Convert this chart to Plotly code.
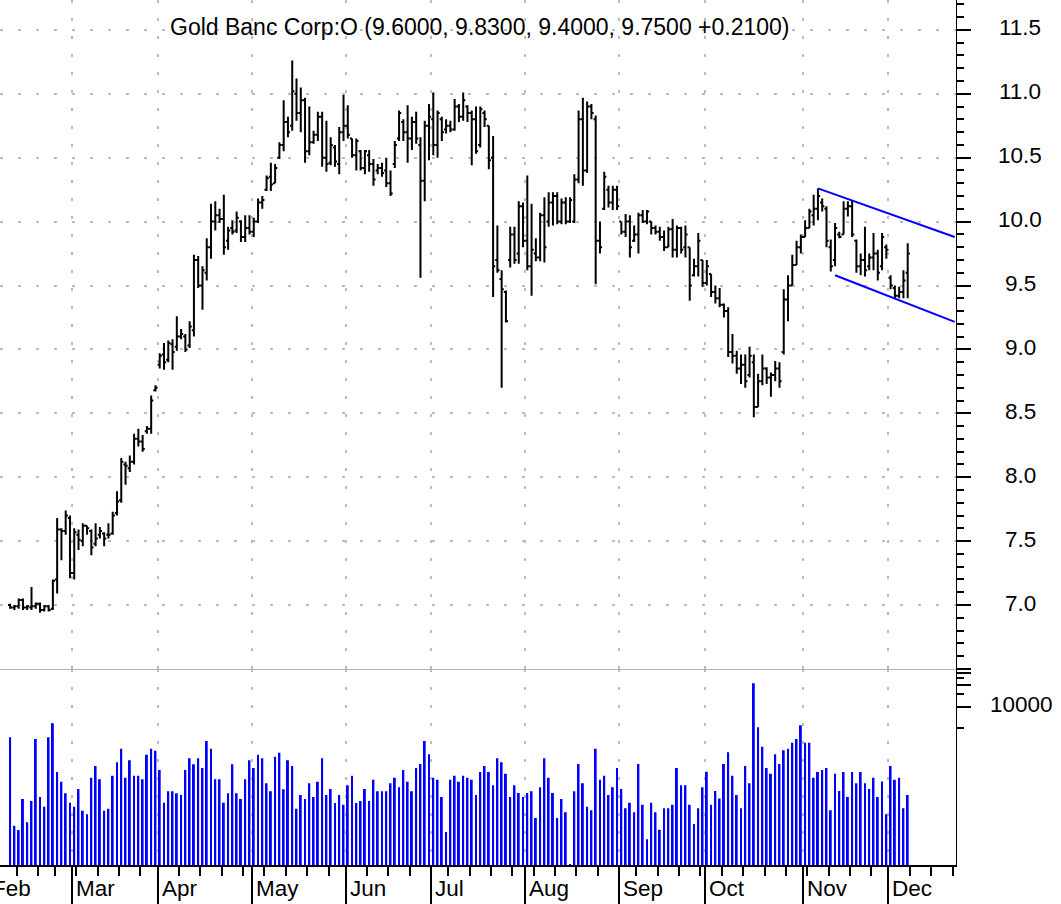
import pandas as pd
import plotly.graph_objects as go

# ---------------- data ----------------
holidays = ["2002-02-18", "2002-03-29", "2002-05-27", "2002-07-04", "2002-09-02", "2002-11-28"]
trade_days = [d for d in pd.bdate_range("2002-02-07", "2002-12-06")
              if d.strftime("%Y-%m-%d") not in holidays]

opens = [7.00, 6.98, 6.99, 7.04, 6.98, 6.98, 6.99, 7.01, 6.96, 6.99,
         6.97, 7.20, 7.59, 7.58, 7.68, 7.25, 7.55, 7.50, 7.62, 7.58,
         7.48, 7.55, 7.56, 7.55, 7.56, 7.72, 7.82, 8.10, 8.07, 8.12,
         8.30, 8.28, 8.36, 8.38, 8.68, 8.88, 8.96, 8.92, 9.04, 9.02,
         9.10, 9.10, 9.03, 9.15, 9.70, 9.50, 9.60, 9.80, 10.00, 10.05,
         10.02, 9.85, 9.95, 9.93, 10.00, 9.88, 9.95, 9.92, 10.00, 10.15,
         10.25, 10.35, 10.30, 10.50, 10.60, 10.78, 10.75, 11.00, 10.85, 10.95,
         10.55, 10.62, 10.68, 10.82, 10.50, 10.46, 10.58, 10.45, 10.70, 10.75,
         10.65, 10.52, 10.55, 10.42, 10.52, 10.45, 10.40, 10.42, 10.40, 10.30,
         10.45, 10.65, 10.78, 10.70, 10.65, 10.78, 10.60, 10.32, 10.75, 10.80,
         10.60, 10.80, 10.72, 10.75, 10.72, 10.90, 10.82, 10.90, 10.85, 10.80,
         10.60, 10.85, 10.75, 10.50, 9.70, 9.55, 9.45, 9.70, 9.90, 9.75,
         10.12, 9.85, 9.65, 9.75, 9.72, 10.05, 10.00, 10.15, 10.20, 10.00,
         10.15, 10.00, 10.00, 10.33, 10.80, 10.40, 10.90, 10.80, 9.85, 10.10,
         10.25, 10.15, 10.25, 10.00, 9.92, 10.00, 9.85, 9.90, 10.05, 10.00,
         10.00, 9.95, 9.92, 9.88, 9.80, 9.94, 9.78, 9.95, 9.80, 9.80,
         9.58, 9.65, 9.70, 9.52, 9.59, 9.45, 9.40, 9.35, 9.30, 8.98,
         8.95, 8.85, 8.88, 8.80, 8.90, 8.55, 8.75, 8.85, 8.78, 8.80,
         8.85, 8.98, 9.39, 9.50, 9.66, 9.80, 9.88, 9.95, 10.05, 10.10,
         10.15, 10.10, 9.80, 9.70, 9.90, 9.90, 10.10, 10.12, 9.85, 9.65,
         9.70, 9.65, 9.72, 9.75, 9.65, 9.80, 9.56, 9.48, 9.42, 9.45,
         9.60]
highs = [7.01, 7.00, 7.05, 7.05, 7.00, 7.14, 7.02, 7.02, 7.00, 7.00,
         7.20, 7.68, 7.60, 7.74, 7.70, 7.60, 7.59, 7.64, 7.62, 7.59,
         7.64, 7.61, 7.57, 7.64, 7.73, 7.89, 8.15, 8.12, 8.17, 8.34,
         8.38, 8.33, 8.40, 8.64, 8.72, 8.97, 9.05, 9.07, 9.08, 9.26,
         9.16, 9.12, 9.22, 9.74, 9.73, 9.65, 9.87, 10.14, 10.16, 10.10,
         10.21, 9.96, 10.01, 10.08, 10.01, 10.05, 10.05, 10.03, 10.18, 10.20,
         10.36, 10.46, 10.45, 10.62, 10.95, 10.82, 11.26, 11.12, 11.05, 10.97,
         10.90, 10.71, 10.86, 10.86, 10.79, 10.66, 10.60, 10.74, 10.99, 10.91,
         10.65, 10.65, 10.56, 10.56, 10.56, 10.49, 10.45, 10.46, 10.50, 10.40,
         10.63, 10.87, 10.80, 10.91, 10.82, 10.86, 10.66, 10.79, 10.92, 11.01,
         10.87, 10.82, 10.80, 10.79, 10.96, 10.92, 11.01, 10.91, 10.87, 10.90,
         10.90, 10.87, 10.75, 10.67, 9.97, 9.62, 9.46, 9.96, 9.96, 10.16,
         10.15, 10.36, 10.14, 9.87, 10.07, 10.19, 10.23, 10.23, 10.23, 10.18,
         10.19, 10.19, 10.37, 10.87, 10.97, 10.94, 10.92, 10.83, 10.00, 10.39,
         10.28, 10.28, 10.28, 10.00, 10.06, 10.05, 9.97, 10.07, 10.09, 10.09,
         10.00, 9.97, 9.96, 9.93, 9.96, 10.02, 9.97, 9.96, 9.97, 9.80,
         9.71, 9.91, 9.70, 9.70, 9.59, 9.50, 9.48, 9.36, 9.33, 9.12,
         8.99, 8.96, 8.96, 9.02, 8.96, 8.81, 8.96, 8.86, 8.82, 8.91,
         8.90, 9.47, 9.58, 9.74, 9.85, 9.90, 10.01, 10.10, 10.21, 10.26,
         10.18, 10.12, 9.86, 9.99, 9.92, 10.16, 10.16, 10.17, 9.86, 9.75,
         9.96, 9.75, 9.91, 9.78, 9.91, 9.82, 9.58, 9.50, 9.49, 9.62,
         9.83]
lows = [6.97, 6.96, 6.97, 6.96, 6.96, 6.96, 6.97, 6.94, 6.95, 6.95,
        6.96, 7.09, 7.35, 7.55, 7.21, 7.20, 7.43, 7.46, 7.55, 7.39,
        7.46, 7.52, 7.46, 7.52, 7.55, 7.70, 7.80, 7.94, 8.04, 8.10,
        8.24, 8.20, 8.34, 8.34, 8.67, 8.85, 8.84, 8.90, 8.84, 8.99,
        9.08, 8.98, 9.01, 9.10, 9.48, 9.31, 9.54, 9.71, 9.93, 9.99,
        9.74, 9.78, 9.90, 9.91, 9.84, 9.84, 9.90, 9.88, 9.99, 10.10,
        10.24, 10.24, 10.30, 10.49, 10.55, 10.66, 10.71, 10.79, 10.70, 10.46,
        10.52, 10.61, 10.63, 10.43, 10.39, 10.44, 10.43, 10.37, 10.63, 10.65,
        10.50, 10.40, 10.40, 10.37, 10.39, 10.28, 10.37, 10.35, 10.27, 10.20,
        10.42, 10.63, 10.63, 10.46, 10.56, 10.61, 9.56, 10.16, 10.48, 10.52,
        10.50, 10.63, 10.69, 10.70, 10.71, 10.78, 10.79, 10.78, 10.44, 10.53,
        10.58, 10.74, 10.41, 9.41, 9.60, 8.70, 9.21, 9.64, 9.67, 9.67,
        9.80, 9.62, 9.42, 9.69, 9.69, 9.68, 9.96, 9.97, 9.98, 9.98,
        9.98, 9.99, 9.99, 10.30, 10.28, 10.38, 10.80, 9.51, 9.75, 10.09,
        10.11, 10.09, 10.09, 9.90, 9.88, 9.72, 9.84, 9.75, 9.99, 9.98,
        9.90, 9.90, 9.85, 9.77, 9.80, 9.72, 9.72, 9.75, 9.72, 9.38,
        9.57, 9.57, 9.49, 9.50, 9.41, 9.36, 9.33, 9.25, 8.94, 8.89,
        8.81, 8.73, 8.70, 8.78, 8.47, 8.55, 8.72, 8.73, 8.63, 8.75,
        8.70, 8.96, 9.22, 9.50, 9.66, 9.75, 9.88, 9.95, 9.97, 10.01,
        10.08, 9.80, 9.61, 9.65, 9.87, 9.90, 10.04, 9.88, 9.60, 9.58,
        9.57, 9.62, 9.62, 9.54, 9.62, 9.71, 9.47, 9.40, 9.40, 9.40,
        9.40]
closes = [6.98, 6.99, 7.04, 6.98, 6.99, 6.99, 7.01, 6.96, 6.99, 6.96,
          7.19, 7.59, 7.58, 7.70, 7.25, 7.57, 7.51, 7.62, 7.60, 7.45,
          7.52, 7.58, 7.52, 7.55, 7.70, 7.81, 8.12, 8.09, 8.12, 8.30,
          8.28, 8.22, 8.38, 8.60, 8.70, 8.95, 8.90, 9.05, 8.98, 9.10,
          9.12, 9.00, 9.18, 9.70, 9.50, 9.62, 9.80, 10.00, 10.05, 10.02,
          9.80, 9.93, 9.92, 10.03, 9.88, 9.95, 9.92, 10.00, 10.15, 10.17,
          10.34, 10.29, 10.42, 10.60, 10.78, 10.70, 11.02, 10.85, 10.95, 10.55,
          10.62, 10.68, 10.82, 10.50, 10.45, 10.60, 10.47, 10.70, 10.75, 10.68,
          10.52, 10.63, 10.42, 10.55, 10.45, 10.33, 10.42, 10.38, 10.30, 10.22,
          10.60, 10.85, 10.70, 10.65, 10.78, 10.65, 10.32, 10.75, 10.82, 10.60,
          10.85, 10.70, 10.75, 10.72, 10.90, 10.82, 10.95, 10.85, 10.80, 10.55,
          10.88, 10.80, 10.48, 9.65, 9.62, 9.47, 9.22, 9.90, 9.70, 10.12,
          9.85, 9.65, 9.78, 9.72, 10.05, 9.80, 10.15, 10.20, 10.00, 10.15,
          10.00, 10.17, 10.33, 10.80, 10.40, 10.90, 10.85, 9.85, 9.80, 10.35,
          10.15, 10.25, 10.12, 9.92, 10.00, 9.80, 9.90, 10.05, 10.00, 10.08,
          9.95, 9.92, 9.88, 9.80, 9.94, 9.78, 9.95, 9.78, 9.90, 9.50,
          9.65, 9.85, 9.52, 9.65, 9.45, 9.40, 9.35, 9.30, 8.98, 8.95,
          8.85, 8.88, 8.75, 8.95, 8.55, 8.75, 8.85, 8.78, 8.80, 8.85,
          8.75, 9.39, 9.50, 9.66, 9.80, 9.88, 9.95, 10.08, 10.10, 10.20,
          10.12, 9.85, 9.65, 9.95, 9.88, 10.10, 10.12, 9.90, 9.65, 9.70,
          9.62, 9.72, 9.75, 9.60, 9.88, 9.78, 9.50, 9.42, 9.45, 9.54,
          9.75]
volume = [3705, 211, 184, 501, 235, 470, 3510, 535, 391, 3705,
          5830, 1200, 880, 603, 445, 391, 693, 343, 305, 1000,
          1462, 948, 343, 366, 1067, 1648, 2560, 1000, 1760, 1067,
          1067, 948, 2110, 2560, 2400, 1283, 445, 643, 643, 603,
          570, 1283, 1875, 1545, 1875, 1368, 3290, 2560, 948, 948,
          445, 603, 1545, 603, 501, 948, 1760, 1368, 2110, 1875,
          834, 643, 1977, 2250, 687, 1760, 1462, 366,
          571, 501, 834, 535, 880, 1875, 571, 693, 440, 571,
          417, 781, 1068, 440, 470, 693, 470, 938, 643, 643,
          643, 834, 1000, 731, 1283, 880, 643, 1370, 1560, 3285,
          2133, 1000, 938, 535, 172, 938, 1068, 880, 1068, 1000,
          938, 571, 1203, 1462, 1203, 781, 1875, 1645, 1140, 535,
          781, 609, 535, 609, 643, 271, 731, 1875, 1000, 609,
          271, 501, 325, 61, 643, 1560, 834, 391, 347, 2563,
          938, 1068, 571, 731, 1370, 693, 370, 445, 325, 1560,
          417, 136, 445, 325, 185, 370, 370, 417, 1370, 781,
          781, 417, 223, 370, 731, 1210, 417, 650, 508, 1560,
          2276, 1068, 571, 370, 1462, 834, 21300, 5115, 2735, 1370,
          1140, 2133, 1560, 2430, 2563, 3110, 3505, 5460, 3110, 3110,
          1000, 1203, 1283, 1370, 347, 1140, 650, 1203, 535, 1203,
          834, 1203, 834, 693, 1000, 535, 885, 305, 1462, 938,
          1000, 370, 571]

assert len(trade_days) == len(opens) == len(highs) == len(lows) == len(closes) == len(volume)

# trend channel (date, price)
upper_x = ["2002-11-06 12:00", "2002-12-23 12:00"]
upper_y = [10.26, 9.88]
lower_x = ["2002-11-12 12:00", "2002-12-23 12:00"]
lower_y = [9.58, 9.215]

month_ticks = ["2002-03-01", "2002-04-01", "2002-05-01", "2002-06-03", "2002-07-01",
               "2002-08-01", "2002-09-03", "2002-10-01", "2002-11-01", "2002-12-02"]
month_labels = ["Mar", "Apr", "May", "Jun", "Jul", "Aug", "Sep", "Oct", "Nov", "Dec"]
price_ticks = [7.0, 7.5, 8.0, 8.5, 9.0, 9.5, 10.0, 10.5, 11.0, 11.5]
subtitle = "Gold Banc Corp:O (9.6000, 9.8300, 9.4000, 9.7500 +0.2100)"

# ---------------- figure ----------------
W, H = 1061, 904
ML, MR, MT, MB = 0, 105, 0, 39
PW = W - ML - MR
PH = H - MT - MB
split = (865 - 669) / PH

x = [d + pd.Timedelta(hours=12) for d in trade_days]
FONT = "Liberation Sans, Arial, sans-serif"
GRID = dict(showgrid=True, gridcolor="#bcbcbc", griddash="3px,15px", gridwidth=1.5)
rb = [dict(bounds=["sat", "mon"]), dict(values=holidays)]
xr = ["2002-02-05 03:07", "2002-12-23 19:12"]

fig = go.Figure()
fig.add_trace(go.Ohlc(
    x=x, open=opens, high=highs, low=lows, close=closes,
    increasing=dict(line=dict(color="black", width=2)),
    decreasing=dict(line=dict(color="black", width=2)),
    tickwidth=0.5, hoverinfo="skip", xaxis="x", yaxis="y"))
fig.add_trace(go.Bar(
    x=x, y=volume, width=0.45 * 86400000,
    marker=dict(color="#0000ff", line=dict(width=0)),
    hoverinfo="skip", xaxis="x2", yaxis="y2"))
fig.add_trace(go.Scatter(x=upper_x, y=upper_y, mode="lines",
                         line=dict(color="#0000ff", width=2), hoverinfo="skip",
                         xaxis="x", yaxis="y"))
fig.add_trace(go.Scatter(x=lower_x, y=lower_y, mode="lines",
                         line=dict(color="#0000ff", width=2), hoverinfo="skip",
                         xaxis="x", yaxis="y"))

fig.update_layout(
    width=W, height=H, margin=dict(l=ML, r=MR, t=MT, b=MB),
    paper_bgcolor="white", plot_bgcolor="white", showlegend=False,
    font=dict(family=FONT, color="black"),
    xaxis=dict(domain=[0, 1], anchor="y", type="date", range=xr, rangebreaks=rb,
               rangeslider=dict(visible=False), tickmode="array", tickvals=month_ticks,
               ticks="", showticklabels=False, zeroline=False,
               showline=True, linecolor="#b4b4b4", linewidth=1, **GRID),
    xaxis2=dict(domain=[0, 1], anchor="y2", type="date", range=xr, rangebreaks=rb,
                matches="x", tickmode="array", tickvals=month_ticks,
                ticks="outside", ticklen=39, tickwidth=2, tickcolor="black",
                showticklabels=False, zeroline=False,
                showline=True, linecolor="black", linewidth=2,
                minor=dict(ticks="outside", ticklen=9, tickwidth=2, tickcolor="black",
                           dtick=7 * 86400000, tick0="2002-01-07", showgrid=False),
                **GRID),
    yaxis=dict(domain=[split, 1], anchor="x", side="right",
               range=[6.4992, 11.734], tickmode="linear", tick0=0, dtick=0.5,
               ticks="outside", ticklen=14, tickwidth=2, tickcolor="black",
               showticklabels=False, zeroline=False,
               showline=True, linecolor="black", linewidth=1,
               minor=dict(ticks="outside", ticklen=7, tickwidth=2, tickcolor="black",
                          tick0=0, dtick=0.1, showgrid=False),
               **GRID),
    yaxis2=dict(domain=[0, split], anchor="x2", side="right", type="log",
                range=[1.771, 4.530], tickmode="array", tickvals=[10000, 20000, 30000],
                ticks="outside", ticklen=14, tickwidth=2, tickcolor="black",
                showticklabels=False, showgrid=False, zeroline=False,
                showline=True, linecolor="black", linewidth=1,
                minor=dict(tickmode="array", tickvals=[5000, 15000, 25000],
                           ticks="outside", ticklen=7, tickwidth=2, tickcolor="black",
                           showgrid=False)),
)

ann = []
lab_x = (1020 - ML) / PW
for v in price_ticks:
    ann.append(dict(text=f"{v:.1f}", xref="paper", x=lab_x, yref="y", y=v,
                    xanchor="center", yanchor="middle", yshift=2, showarrow=False,
                    font=dict(size=22.5, family=FONT, color="black")))
ann.append(dict(text="10000", xref="paper", x=(1021 - ML) / PW, yref="y2", y=4,
                xanchor="center", yanchor="middle", yshift=2, showarrow=False,
                font=dict(size=22.5, family=FONT, color="black")))
month_y = (865 - 888.5) / PH
ann.append(dict(text="Feb", xref="paper", x=-10 / PW, yref="paper", y=month_y,
                xanchor="left", yanchor="middle", showarrow=False,
                font=dict(size=22.5, family=FONT, color="black")))
for d, t in zip(month_ticks, month_labels):
    ann.append(dict(text=t, xref="x2", x=d, yref="paper", y=month_y,
                    xanchor="left", yanchor="middle", xshift=2, showarrow=False,
                    font=dict(size=22.5, family=FONT, color="black")))
ann.append(dict(text=subtitle, xref="paper", x=480 / PW, yref="paper", y=1 - 27 / PH,
                xanchor="center", yanchor="middle", showarrow=False,
                font=dict(size=23, family=FONT, color="black")))
fig.update_layout(annotations=ann)

# remove the default page margin so the figure sits at the window's top-left corner
fig.write_html("out.html", config={"displayModeBar": False},
               post_script="document.body.style.margin='0px';")
